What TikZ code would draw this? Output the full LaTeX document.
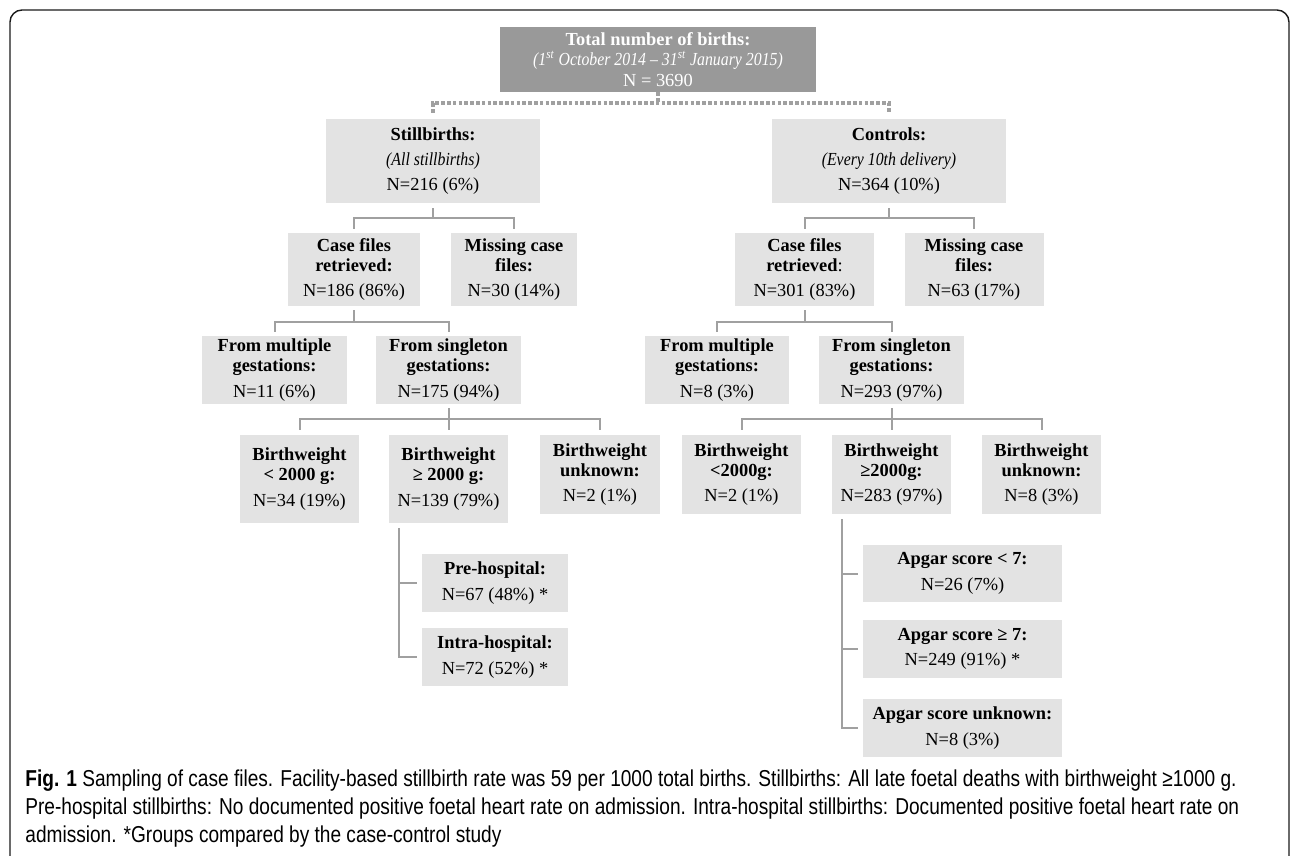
\documentclass[tikz,border=0pt]{standalone}
\usepackage{fontspec}
\setmainfont{Liberation Serif}[ItalicFeatures={FakeStretch=0.86}]
\newfontfamily\capfont{Liberation Sans}[FakeStretch=0.83]
\usepackage{tikz}
\usetikzlibrary{positioning, calc}
\definecolor{boxgray}{HTML}{E3E3E3}
\definecolor{topgray}{HTML}{999999}
\definecolor{linegray}{HTML}{A0A0A0}
\definecolor{framegray}{HTML}{1A1A1A}
\tikzset{
  box/.style={fill=boxgray, align=center, inner sep=0pt, font=\fontsize{9.2}{10.2}\selectfont},
  topbox/.style={box, fill=topgray, text=white},
  link/.style={draw=linegray, line width=1pt},
  dots/.style={draw=linegray, line width=2.1pt, dash pattern=on 1.8pt off 1.1pt},
}
\newcommand{\gap}{\\[2.5pt]}

\begin{document}
\begin{tikzpicture}[x=0.5pt, y=-0.5pt]
    \useasboundingbox (0,0) rectangle (1292,856);
    \draw[framegray, line width=0.7pt, rounded corners=6pt] (10,880) |- (1289,10) -- (1289,880);

    \node[topbox, minimum width=158pt, minimum height=32.5pt] (total) at (658,59.5)
        {\textbf{Total number of births:}\\ \textit{(1\textsuperscript{st} October 2014 – 31\textsuperscript{st} January 2015)}\\ N = 3690};

    \node[box, minimum width=107pt, minimum height=42pt] (still) at (433,161)
        {\textbf{Stillbirths:}\gap \textit{(All stillbirths)}\gap N=216 (6\%)};
    \node[box, minimum width=117pt, minimum height=42pt] (ctrl) at (889,161)
        {\textbf{Controls:}\gap \textit{(Every 10th delivery)}\gap N=364 (10\%)};

    \node[box, minimum width=66pt, minimum height=36.5pt] (scase) at (354,269.5)
        {\textbf{Case files}\\ \textbf{retrieved:}\gap N=186 (86\%)};
    \node[box, minimum width=63pt, minimum height=36.5pt] (smiss) at (514,269.5)
        {\textbf{Missing case}\\ \textbf{files:}\gap N=30 (14\%)};
    \node[box, minimum width=69.5pt, minimum height=36.5pt] (ccase) at (804.5,269.5)
        {\textbf{Case files}\\ \textbf{retrieved}:\gap N=301 (83\%)};
    \node[box, minimum width=69.5pt, minimum height=36.5pt] (cmiss) at (974,269.5)
        {\textbf{Missing case}\\ \textbf{files:}\gap N=63 (17\%)};

    \node[box, minimum width=72.5pt, minimum height=34pt] (smult) at (274.5,370)
        {\textbf{From multiple}\\ \textbf{gestations:}\gap N=11 (6\%)};
    \node[box, minimum width=72.5pt, minimum height=34pt] (ssing) at (448.5,370)
        {\textbf{From singleton}\\ \textbf{gestations:}\gap N=175 (94\%)};
    \node[box, minimum width=72pt, minimum height=34pt] (cmult) at (717,370)
        {\textbf{From multiple}\\ \textbf{gestations:}\gap N=8 (3\%)};
    \node[box, minimum width=72.5pt, minimum height=34pt] (csing) at (891.5,370)
        {\textbf{From singleton}\\ \textbf{gestations:}\gap N=293 (97\%)};

    \node[box, minimum width=59.5pt, minimum height=44pt] (slow) at (299.5,479)
        {\textbf{Birthweight}\\ \textbf{< 2000 g:}\gap N=34 (19\%)};
    \node[box, minimum width=59.5pt, minimum height=44pt] (shigh) at (448.5,479)
        {\textbf{Birthweight}\\ \textbf{≥ 2000 g:}\gap N=139 (79\%)};
    \node[box, minimum width=60pt, minimum height=39.5pt] (sunk) at (600,474.5)
        {\textbf{Birthweight}\\ \textbf{unknown:}\gap N=2 (1\%)};
    \node[box, minimum width=59.5pt, minimum height=39.5pt] (clow) at (741.5,474.5)
        {\textbf{Birthweight}\\ \textbf{<2000g:}\gap N=2 (1\%)};
    \node[box, minimum width=59.5pt, minimum height=39.5pt] (chigh) at (891.5,474.5)
        {\textbf{Birthweight}\\ \textbf{≥2000g:}\gap N=283 (97\%)};
    \node[box, minimum width=59.5pt, minimum height=39.5pt] (cunk) at (1041.5,474.5)
        {\textbf{Birthweight}\\ \textbf{unknown:}\gap N=8 (3\%)};

    \node[box, minimum width=73pt, minimum height=29pt] (pre) at (495,583)
        {\textbf{Pre-hospital:}\gap N=67 (48\%) *};
    \node[box, minimum width=73pt, minimum height=29pt] (intra) at (495,657)
        {\textbf{Intra-hospital:}\gap N=72 (52\%) *};

    \node[box, minimum width=99.5pt, minimum height=28.5pt] (alow) at (962.5,573.5)
        {\textbf{Apgar score < 7:}\gap N=26 (7\%)};
    \node[box, minimum width=99.5pt, minimum height=29pt] (ahigh) at (962.5,649)
        {\textbf{Apgar score ≥ 7:}\gap N=249 (91\%) *};
    \node[box, minimum width=99.5pt, minimum height=29pt] (aunk) at (962.5,728)
        {\textbf{Apgar score unknown:}\gap N=8 (3\%)};

    \draw[dots] (total.south) -- ++(0,11) coordinate (d0);
    \draw[dots] ([yshift=3pt]still.north) |- (d0) -| ([yshift=3pt]ctrl.north);

    \draw[link] ([yshift=-2.5pt]still.south) -- ++(0,10) coordinate (j1);
    \draw[link] ([yshift=2pt]scase.north) |- (j1) -| ([yshift=2pt]smiss.north);
    \draw[link] ([yshift=-2.5pt]ctrl.south) -- ++(0,10) coordinate (k1);
    \draw[link] ([yshift=2pt]ccase.north) |- (k1) -| ([yshift=2pt]cmiss.north);

    \draw[link] ([yshift=-2pt]scase.south) -- ++(0,12) coordinate (j2);
    \draw[link] ([yshift=2pt]smult.north) |- (j2) -| ([yshift=2pt]ssing.north);
    \draw[link] ([yshift=-2pt]ccase.south) -- ++(0,12) coordinate (k2);
    \draw[link] ([yshift=2pt]cmult.north) |- (k2) -| ([yshift=2pt]csing.north);

    \draw[link] ([yshift=-2pt]ssing.south) -- ++(0,11) coordinate (j3);
    \draw[link] ([yshift=2.5pt]slow.north) |- (j3) -| ([yshift=2.5pt]sunk.north);
    \draw[link] (j3) -- ([yshift=2.5pt]shigh.north);
    \draw[link] ([yshift=-2pt]csing.south) -- ++(0,11) coordinate (k3);
    \draw[link] ([yshift=2.5pt]clow.north) |- (k3) -| ([yshift=2.5pt]cunk.north);
    \draw[link] (k3) -- ([yshift=2.5pt]chigh.north);

    \coordinate (sv) at ([shift={(10,5)}]shigh.south west);
    \draw[link] (sv) |- ([xshift=-2.5pt]intra.west);
    \draw[link] (sv |- pre.west) -- ([xshift=-2.5pt]pre.west);
    \coordinate (cv) at ([shift={(10,5)}]chigh.south west);
    \draw[link] (cv) |- ([xshift=-2.5pt]aunk.west);
    \draw[link] (cv |- alow.west) -- ([xshift=-2.5pt]alow.west);
    \draw[link] (cv |- ahigh.west) -- ([xshift=-2.5pt]ahigh.west);

    \node[anchor=north west, align=left, inner sep=0pt, font=\capfont\fontsize{11.5}{14}\selectfont] (cap) at (25,769)
        {\textbf{Fig. 1} Sampling of case files. Facility-based stillbirth rate was 59 per 1000 total births. Stillbirths: All late foetal deaths with birthweight ≥1000 g.\\
         Pre-hospital stillbirths: No documented positive foetal heart rate on admission. Intra-hospital stillbirths: Documented positive foetal heart rate on\\
         admission. *Groups compared by the case-control study};
\end{tikzpicture}
\end{document}
